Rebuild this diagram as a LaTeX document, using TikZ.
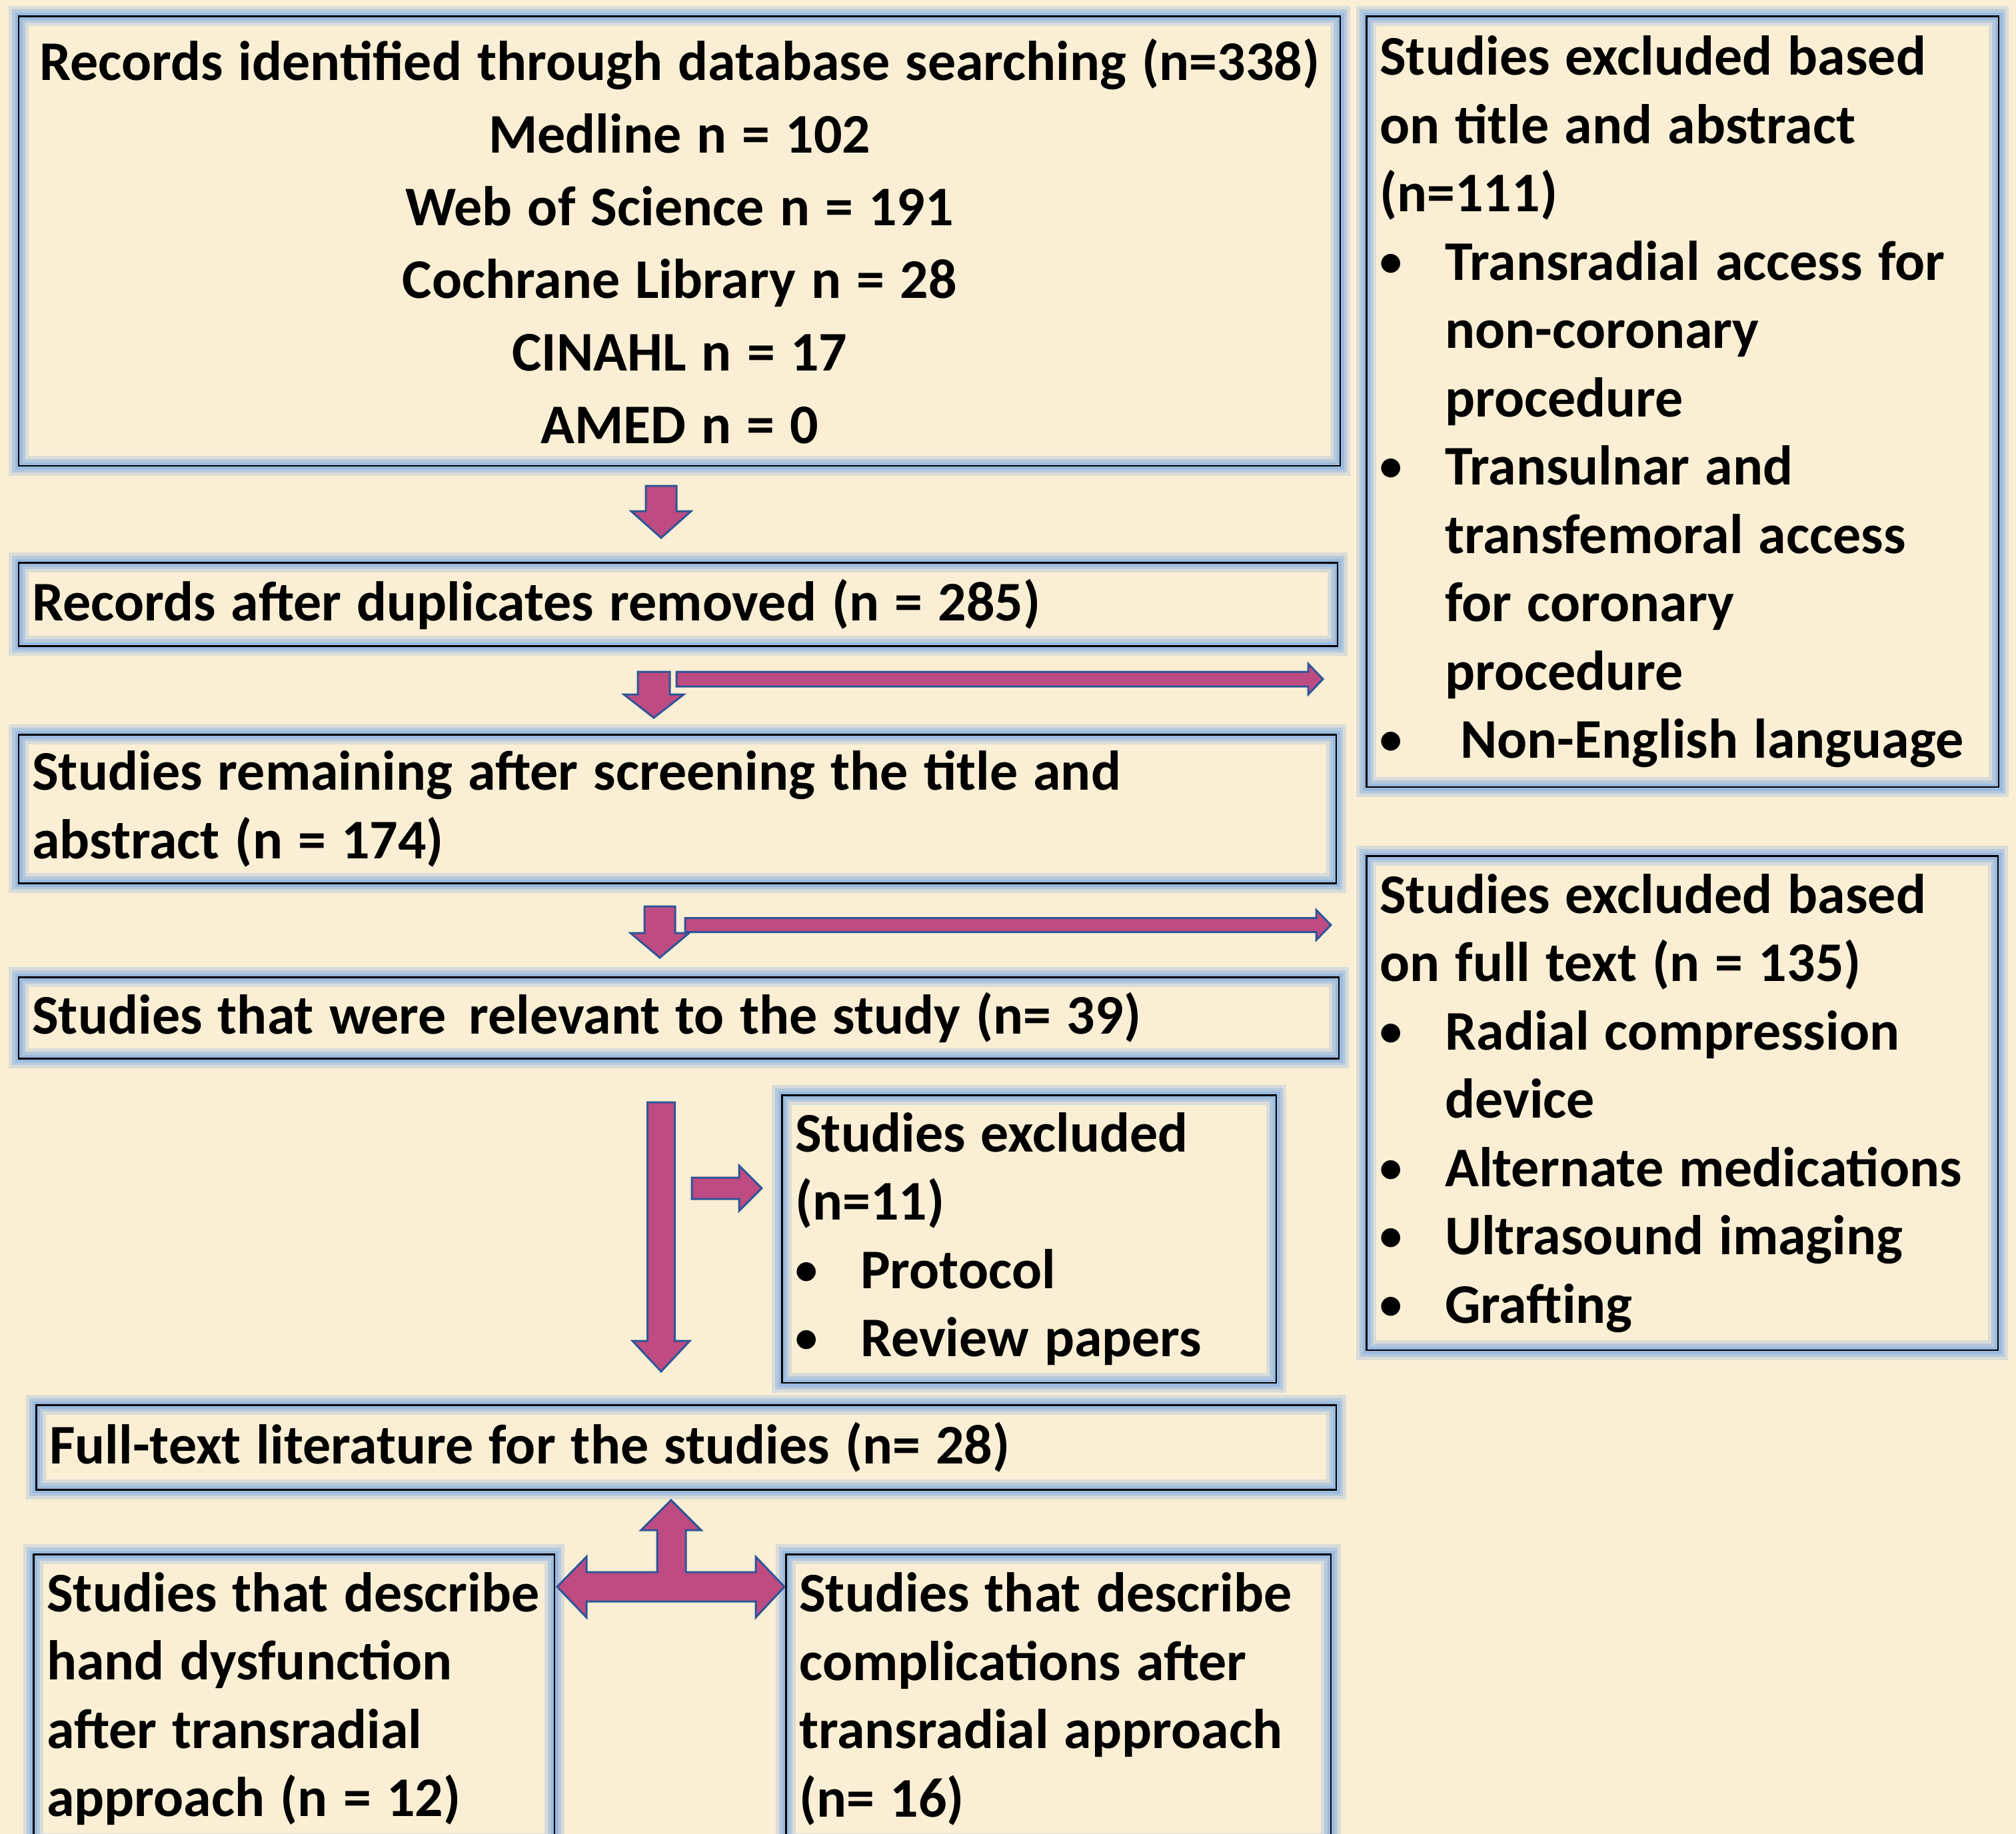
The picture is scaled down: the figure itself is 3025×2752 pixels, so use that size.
\documentclass[tikz,border=0pt]{standalone}
\usepackage{fontspec}
\setmainfont{Carlito}

\definecolor{paper}{RGB}{250,239,212}
\definecolor{glowblue}{RGB}{141,178,226}
\definecolor{arrowpink}{RGB}{190,75,130}
\definecolor{arrowline}{RGB}{47,85,151}

\newcommand{\boxfont}{\fontsize{8.4}{10.25}\selectfont\bfseries}
\newcommand{\bul}[1]{\makebox[9.8pt][l]{\raisebox{0.6pt}{\scalebox{0.8}{\textbullet}}}#1}
\newcommand{\cont}{\hspace*{9.8pt}}

% block arrows: centre, start, head base, tip, half shaft, half head
\newcommand{\blockdown}[6]{%
  \filldraw[blockarrow] ({#1-#5},#2) -- ({#1+#5},#2) -- ({#1+#5},#3) -- ({#1+#6},#3)
    -- (#1,#4) -- ({#1-#6},#3) -- ({#1-#5},#3) -- cycle;}
\newcommand{\blockright}[6]{%
  \filldraw[blockarrow] (#2,{#1-#5}) -- (#3,{#1-#5}) -- (#3,{#1-#6}) -- (#4,#1)
    -- (#3,{#1+#6}) -- (#3,{#1+#5}) -- (#2,{#1+#5}) -- cycle;}

\tikzset{
  flowbox/.style={draw=black, line width=0.25pt, rectangle, anchor=north west,
    inner ysep=0pt, font=\boxfont,
    execute at begin node={\spaceskip=0.275em\relax},
    preaction={draw=glowblue, line width=3pt, opacity=0.3},
    preaction={draw=glowblue, line width=2pt, opacity=0.45},
    preaction={draw=glowblue, line width=1.1pt, opacity=0.65}},
  leftbox/.style={flowbox, inner xsep=0pt, align=left,
    execute at begin node={\leftskip=2pt}},
  blockarrow/.style={fill=arrowpink, draw=arrowline, line width=0.3pt, line join=miter}
}

\begin{document}
\begin{tikzpicture}[x=0.1pt, y=-0.1pt]
  \useasboundingbox (0,0) rectangle (3025,2752);
  \fill[paper] (0,0) rectangle (3025,2752);
  \clip (0,0) rectangle (3025,2752);

  % main column
  \node[flowbox, inner xsep=0pt, align=center, text width=198.3pt,
    minimum height=67.5pt, font={\fontsize{8.4}{10.9}\selectfont\bfseries}] (rec) at (27,23)
    {Records identified through database searching (n=338)\\
     Medline n = 102\\ Web of Science n = 191\\ Cochrane Library n = 28\\
     CINAHL n = 17\\ AMED n = 0};
  \node[leftbox, text width=197.9pt, minimum height=12.5pt] (dup) at (27,843)
    {Records after duplicates removed (n = 285)};
  \node[leftbox, text width=197.7pt, minimum height=22.3pt] (scr) at (27,1101)
    {Studies remaining after screening the title and\\ abstract (n = 174)};
  \node[leftbox, text width=198.1pt, minimum height=12.2pt] (rel) at (27,1465)
    {Studies that were\ \hspace{1.1pt}relevant to the study (n= 39)};
  \node[leftbox, text width=74.2pt, minimum height=43.2pt] (excl) at (1172,1642)
    {Studies excluded\\ (n=11)\\ \bul{Protocol}\\ \bul{Review papers}};
  \node[leftbox, text width=195.1pt, minimum height=12.7pt] (full) at (53,2107)
    {Full-text literature for the studies (n= 28)};
  \node[leftbox, text width=78.2pt, minimum height=43.4pt] (hand) at (49,2331)
    {Studies that describe\\ hand dysfunction\\ after transradial\\ approach (n = 12)};
  \node[leftbox, text width=81.8pt, minimum height=43.4pt] (comp) at (1178,2331)
    {Studies that describe\\ complications after\\ transradial approach\\ (n= 16)};

  % exclusion boxes
  \node[leftbox, text width=94.9pt, minimum height=115.7pt] (exta) at (2049,23)
    {Studies excluded based\\ on title and abstract\\ (n=111)\\
     \bul{Transradial access for}\\ \cont non-coronary\\ \cont procedure\\
     \bul{Transulnar and}\\ \cont transfemoral access\\ \cont for coronary\\
     \cont procedure\\ \bul{\ Non-English language}};
  \node[leftbox, text width=94.8pt, minimum height=74.2pt] (extb) at (2049,1283)
    {Studies excluded based\\ on full text (n = 135)\\
     \bul{Radial compression}\\ \cont device\\ \bul{Alternate medications}\\
     \bul{Ultrasound imaging}\\ \bul{Grafting}};

  % arrows
  \blockdown{992}{729}{767}{807}{23}{45}
  \blockdown{981}{1008}{1042}{1077}{24}{45}
  \blockright{1019}{1015}{1963}{1985}{11}{23}
  \blockdown{990}{1360}{1400}{1437}{23}{44}
  \blockright{1388}{1028}{1975}{1997}{10.5}{22.5}
  \blockdown{992}{1654}{2012}{2058}{20.5}{43}
  \blockright{1783}{1038}{1109}{1143}{16}{34}

  % T-shaped split arrow
  \filldraw[blockarrow] (1007,2251) -- (1052,2296) -- (1029,2296) -- (1029,2359)
    -- (1134,2359) -- (1134,2336) -- (1177,2381) -- (1134,2427) -- (1134,2403)
    -- (880,2403) -- (880,2427) -- (836,2381) -- (880,2336) -- (880,2359)
    -- (986,2359) -- (986,2296) -- (962,2296) -- cycle;
\end{tikzpicture}
\end{document}
